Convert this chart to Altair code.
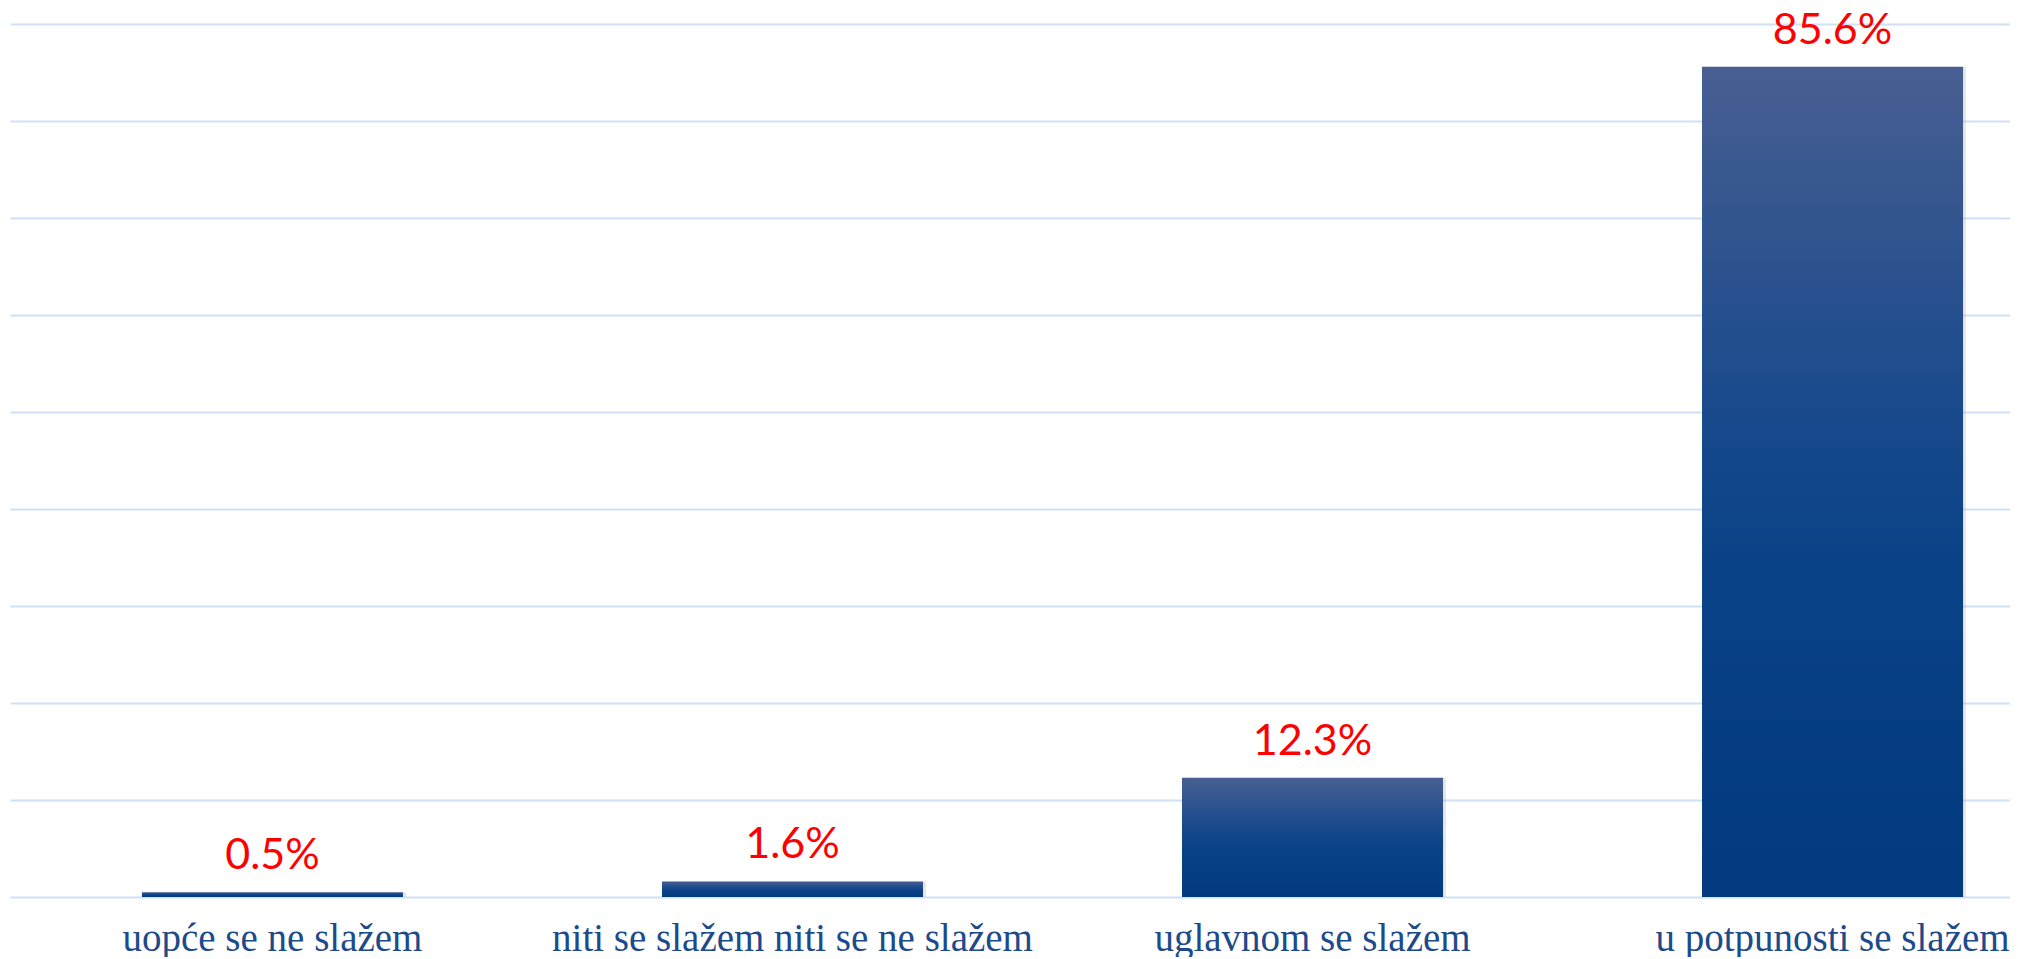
import altair as alt
import pandas as pd

categories = ["uopće se ne slažem", "niti se slažem niti se ne slažem",
              "uglavnom se slažem", "u potpunosti se slažem"]
values = [0.5, 1.6, 12.3, 85.6]
labels = ["0.5%", "1.6%", "12.3%", "85.6%"]

df = pd.DataFrame({"cat": categories, "val": values, "lab": labels})

gradient = alt.Gradient(
    gradient="linear",
    x1=0, x2=0, y1=0, y2=1,
    stops=[
        alt.GradientStop(offset=0, color="#485f92"),
        alt.GradientStop(offset=0.4, color="#1a4a8c"),
        alt.GradientStop(offset=0.6, color="#0a4287"),
        alt.GradientStop(offset=1, color="#033a7f"),
    ],
)

x_enc = alt.X(
    "cat:N",
    sort=categories,
    scale=alt.Scale(paddingInner=0.498, paddingOuter=0.172, align=0.7376, round=False),
    axis=alt.Axis(
        title=None, labelAngle=0, ticks=False, tickSize=0, domain=False,
        labelFont="Liberation Serif", labelFontSize=39, labelColor="#1d4a8a",
        labelBaseline="alphabetic", labelPadding=53, labelLimit=0, grid=False,
    ),
)
y_enc = alt.Y(
    "val:Q",
    scale=alt.Scale(domain=[0, 90], nice=False),
    axis=alt.Axis(
        title=None, labels=False, ticks=False, domain=False,
        values=[0, 10, 20, 30, 40, 50, 60, 70, 80, 90],
        grid=True, gridColor="#d0e0f5", gridWidth=2,
    ),
)

base = alt.Chart(df)

shadow = base.mark_bar(color="#7f7f7f", opacity=0.18, xOffset=3, y2Offset=3).encode(
    x=x_enc, y=y_enc
)
bars = base.mark_bar(color=gradient).encode(x=x_enc, y=y_enc)
text = base.mark_text(
    font="Lato", fontSize=43, color="#ff0000", baseline="alphabetic", dy=-23
).encode(x=x_enc, y=y_enc, text="lab:N")

chart = (
    alt.layer(shadow, bars, text)
    .properties(
        width=2000, height=873,
        autosize=alt.AutoSizeParams(type="none"),
        padding={"left": 2, "top": 16, "right": 0, "bottom": 60},
        background="white",
    )
    .configure_view(stroke=None)
)

chart.save("out.html", embed_options={"renderer": "svg", "actions": False})
